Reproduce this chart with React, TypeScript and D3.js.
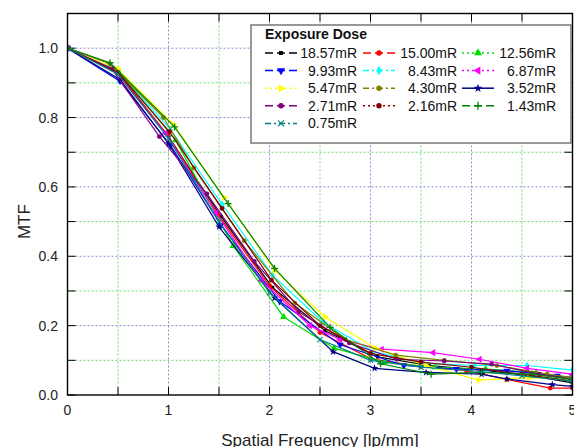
import React from 'react';
import * as d3 from 'd3';

// ---- data ----
const doseLabels = ['18.57mR', '15.00mR', '12.56mR', '9.93mR', '8.43mR', '6.87mR', '5.47mR', '4.30mR', '3.52mR', '2.71mR', '2.16mR', '1.43mR', '0.75mR'];

const freq_18_57 = [0, 0.5, 1.0, 1.52, 2.03, 2.55, 3.07, 3.58, 4.1, 4.6, 5.0];
const mtf_18_57 = [1, 0.93, 0.745, 0.515, 0.31, 0.185, 0.11, 0.085, 0.072, 0.055, 0.035];

const freq_15_00 = [0, 0.48, 0.99, 1.49, 2.0, 2.5, 3.0, 3.5, 3.95, 4.35, 4.78, 5.0];
const mtf_15_00 = [1, 0.935, 0.75, 0.52, 0.315, 0.18, 0.105, 0.082, 0.07, 0.045, 0.02, 0.02];

const freq_12_56 = [0, 0.5, 1.07, 1.64, 2.14, 2.64, 3.14, 3.64, 4.14, 4.64, 5.0];
const mtf_12_56 = [1, 0.935, 0.735, 0.43, 0.225, 0.135, 0.095, 0.08, 0.075, 0.065, 0.045];

const freq_9_93 = [0, 0.52, 1.02, 1.52, 2.1, 2.7, 3.33, 3.85, 4.35, 4.85, 5.0];
const mtf_9_93 = [1, 0.905, 0.72, 0.49, 0.27, 0.145, 0.085, 0.075, 0.07, 0.055, 0.05];

const freq_8_43 = [0, 0.5, 1.02, 1.53, 2.03, 2.53, 3.03, 3.52, 4.03, 4.55, 5.0];
const mtf_8_43 = [1, 0.935, 0.765, 0.55, 0.345, 0.21, 0.125, 0.092, 0.085, 0.085, 0.072];

const freq_6_87 = [0, 0.45, 0.97, 1.47, 1.92, 2.4, 2.7, 3.11, 3.62, 4.08, 4.55, 5.0];
const mtf_6_87 = [1, 0.94, 0.755, 0.525, 0.33, 0.2, 0.16, 0.132, 0.122, 0.103, 0.077, 0.06];

const freq_5_47 = [0, 0.5, 1.05, 1.55, 2.05, 2.55, 3.05, 3.55, 4.07, 4.57, 5.0];
const mtf_5_47 = [1, 0.94, 0.78, 0.57, 0.36, 0.225, 0.135, 0.085, 0.043, 0.05, 0.045];

const freq_4_30 = [0, 0.42, 0.95, 1.25, 1.75, 2.25, 2.75, 3.25, 3.73, 4.25, 4.75, 5.0];
const mtf_4_30 = [1, 0.955, 0.8, 0.655, 0.445, 0.265, 0.16, 0.115, 0.1, 0.085, 0.06, 0.05];

const freq_3_52 = [0, 0.52, 1.0, 1.5, 2.05, 2.63, 3.04, 3.55, 4.1, 4.35, 4.8, 5.0];
const mtf_3_52 = [1, 0.91, 0.725, 0.485, 0.28, 0.125, 0.077, 0.065, 0.06, 0.046, 0.03, 0.025];

const freq_2_71 = [0, 0.44, 0.91, 1.38, 1.85, 2.29, 2.79, 3.26, 3.73, 4.2, 4.67, 5.0];
const mtf_2_71 = [1, 0.94, 0.745, 0.58, 0.385, 0.24, 0.15, 0.103, 0.098, 0.089, 0.06, 0.045];

const freq_2_16 = [0, 0.5, 1.01, 1.53, 2.02, 2.5, 3.0, 3.5, 4.0, 4.5, 5.0];
const mtf_2_16 = [1, 0.93, 0.759, 0.538, 0.331, 0.2, 0.12, 0.095, 0.08, 0.06, 0.04];

const freq_1_43 = [0, 0.42, 1.06, 1.59, 2.05, 2.6, 3.1, 3.6, 4.1, 4.6, 5.0];
const mtf_1_43 = [1, 0.958, 0.773, 0.552, 0.365, 0.195, 0.09, 0.06, 0.065, 0.06, 0.045];

const freq_0_75 = [0, 0.5, 1.0, 1.5, 2.0, 2.5, 3.0, 3.5, 4.0, 4.5, 5.0];
const mtf_0_75 = [1, 0.925, 0.74, 0.5, 0.295, 0.16, 0.1, 0.08, 0.07, 0.055, 0.04];

const xTicks = [0, 1, 2, 3, 4, 5];
const yTicks = [0, 0.2, 0.4, 0.6, 0.8, 1.0];
const yTickLabels = ['0.0', '0.2', '0.4', '0.6', '0.8', '1.0'];

// ---- styles ----
const colors = ['#000000', '#ff0000', '#00e000', '#0000ff', '#00ffff', '#ff00ff', '#ffff00', '#808000', '#000080', '#800080', '#800000', '#008000', '#008080'];
const dashes = ['8,4', '8,4', '2,3', '8,4', '6,3,2,3', '2,3', '2,3', '6,3,2,3', '', '8,4', '2,3', '8,4', '6,3,2,3'];
const markers = ['square', 'circle', 'triUp', 'triDown', 'diamond', 'triLeft', 'triRight', 'circle', 'star', 'circle', 'circle', 'plus', 'x'];

const seriesData = [
  [freq_18_57, mtf_18_57], [freq_15_00, mtf_15_00], [freq_12_56, mtf_12_56], [freq_9_93, mtf_9_93],
  [freq_8_43, mtf_8_43], [freq_6_87, mtf_6_87], [freq_5_47, mtf_5_47], [freq_4_30, mtf_4_30],
  [freq_3_52, mtf_3_52], [freq_2_71, mtf_2_71], [freq_2_16, mtf_2_16], [freq_1_43, mtf_1_43], [freq_0_75, mtf_0_75],
];

const W = 574, H = 447;
const L = 67.5, R = 572.5, T = 13.5, B = 395;
const FONT = "Arial, 'Liberation Sans', Helvetica, sans-serif";

function Marker({ kind, x, y, color, k = 1 }: { kind: string; x: number; y: number; color: string; k?: number }) {
  const s = 3.5 * Math.sqrt(k);
  const sym = (t: any, a: number, rot = 0) => (
    <path d={d3.symbol(t, a * k)()!} transform={`translate(${x},${y})${rot ? ` rotate(${rot})` : ''}`} fill={color} />
  );
  switch (kind) {
    case 'square': return sym(d3.symbolSquare, 12);
    case 'circle': return sym(d3.symbolCircle, 18);
    case 'triUp': return sym(d3.symbolTriangle, 22);
    case 'triDown': return sym(d3.symbolTriangle, 22, 180);
    case 'triLeft': return sym(d3.symbolTriangle, 22, -90);
    case 'triRight': return sym(d3.symbolTriangle, 22, 90);
    case 'diamond': return sym(d3.symbolDiamond, 20);
    case 'star': return sym(d3.symbolStar, 18);
    case 'plus':
      return <path d={`M${x - s},${y}H${x + s}M${x},${y - s}V${y + s}`} stroke={color} strokeWidth={1.3} fill="none" />;
    case 'x':
      return <path d={`M${x - s * 0.75},${y - s * 0.75}L${x + s * 0.75},${y + s * 0.75}M${x - s * 0.75},${y + s * 0.75}L${x + s * 0.75},${y - s * 0.75}`} stroke={color} strokeWidth={1.1} fill="none" />;
    default:
      return null;
  }
}

export default function App() {
  const x = d3.scaleLinear().domain([0, 5]).range([L, R]);
  const y = d3.scaleLinear().domain([0, 1.1]).range([B, T]);
  const line = d3.line<[number, number]>().x(d => x(d[0])).y(d => y(d[1]));

  const minorX = d3.range(0, 5.01, 0.5).map(v => +v.toFixed(2));
  const minorY = d3.range(0, 1.101, 0.1).map(v => +v.toFixed(2));
  const isMajorX = (v: number) => Math.abs(v - Math.round(v)) < 1e-6;
  const isMajorY = (v: number) => Math.abs(v * 5 - Math.round(v * 5)) < 1e-6;

  const legX0 = 251, legY0 = 25, legW = 320, legH = 118;
  const colStart = [265, 363, 462];
  const colLabelEnd = [357, 457, 556];
  const rowY0 = 53, rowStep = 17.6;

  return (
    <svg width={W} height={H} style={{ position: 'absolute', left: 0, top: 0, background: '#fff' }} fontFamily={FONT}>
      <defs>
        <clipPath id="plotclip">
          <rect x={L} y={T} width={R - L} height={B - T} />
        </clipPath>
      </defs>
      <rect x={0} y={0} width={W} height={H} fill="#fff" />
      {/* grid */}
      {minorX.filter(v => v > 0 && v < 5).map(v => (
        <line key={'gx' + v} x1={x(v)} x2={x(v)} y1={T} y2={B}
          stroke={isMajorX(v) ? '#8a8ad0' : '#6fdc6f'} strokeWidth={1} strokeDasharray="2,2" />
      ))}
      {minorY.filter(v => v > 0 && v < 1.1).map(v => (
        <line key={'gy' + v} x1={L} x2={R} y1={y(v)} y2={y(v)}
          stroke={isMajorY(v) ? '#8a8ad0' : '#6fdc6f'} strokeWidth={1} strokeDasharray="2,2" />
      ))}
      {/* ticks */}
      {minorX.map(v => (
        <g key={'tx' + v}>
          <line x1={x(v)} x2={x(v)} y1={B} y2={B - 8} stroke="#000" strokeWidth={1} />
          <line x1={x(v)} x2={x(v)} y1={T} y2={T + 8} stroke="#000" strokeWidth={1} />
        </g>
      ))}
      {minorY.map(v => (
        <g key={'ty' + v}>
          <line x1={L} x2={L + 8} y1={y(v)} y2={y(v)} stroke="#000" strokeWidth={1} />
          <line x1={R} x2={R - 8} y1={y(v)} y2={y(v)} stroke="#000" strokeWidth={1} />
        </g>
      ))}
      {/* series */}
      <g clipPath="url(#plotclip)">
        {seriesData.map(([fx, my], i) => {
          const pts = fx.map((f, k) => [f, my[k]] as [number, number]);
          return (
            <g key={'s' + i}>
              <path d={line(pts)!} fill="none" stroke={colors[i]} strokeWidth={1.2} />
              {pts.map((p, k) => (
                <Marker key={k} kind={markers[i]} x={x(p[0])} y={y(p[1])} color={colors[i]} />
              ))}
            </g>
          );
        })}
      </g>
      {/* frame */}
      <rect x={L} y={T} width={R - L} height={B - T} fill="none" stroke="#000" strokeWidth={1.4} />
      {/* tick labels */}
      {xTicks.map(v => (
        <text key={'xl' + v} x={x(v)} y={415} textAnchor="middle" fontSize={14} fill="#222">{v}</text>
      ))}
      {yTicks.map((v, i) => (
        <text key={'yl' + v} x={58} y={y(v) + 5} textAnchor="end" fontSize={14} fill="#222">{yTickLabels[i]}</text>
      ))}
      {/* axis titles */}
      <text x={(L + R) / 2} y={446} textAnchor="middle" fontSize={17} fill="#222">Spatial Frequency [lp/mm]</text>
      <text transform={`translate(30,${y(0.5)}) rotate(-90)`} textAnchor="middle" fontSize={17} fill="#222">MTF</text>
      {/* legend */}
      <rect x={legX0} y={legY0} width={legW} height={legH} fill="#fff" stroke="#777" strokeWidth={1.5} />
      <text x={265} y={39} fontSize={14} fontWeight="bold" fill="#111">Exposure Dose</text>
      {doseLabels.map((lab, i) => {
        const col = i % 3, row = Math.floor(i / 3);
        const cy = rowY0 + row * rowStep;
        const sx = colStart[col];
        return (
          <g key={'lg' + i}>
            <line x1={sx} x2={sx + 32} y1={cy} y2={cy} stroke={colors[i]} strokeWidth={1.5} strokeDasharray={dashes[i] || undefined} />
            <Marker kind={markers[i]} x={sx + 16} y={cy} color={colors[i]} k={1.3} />
            <text x={colLabelEnd[col]} y={cy + 5} textAnchor="end" fontSize={14} fill="#111">{lab}</text>
          </g>
        );
      })}
    </svg>
  );
}
